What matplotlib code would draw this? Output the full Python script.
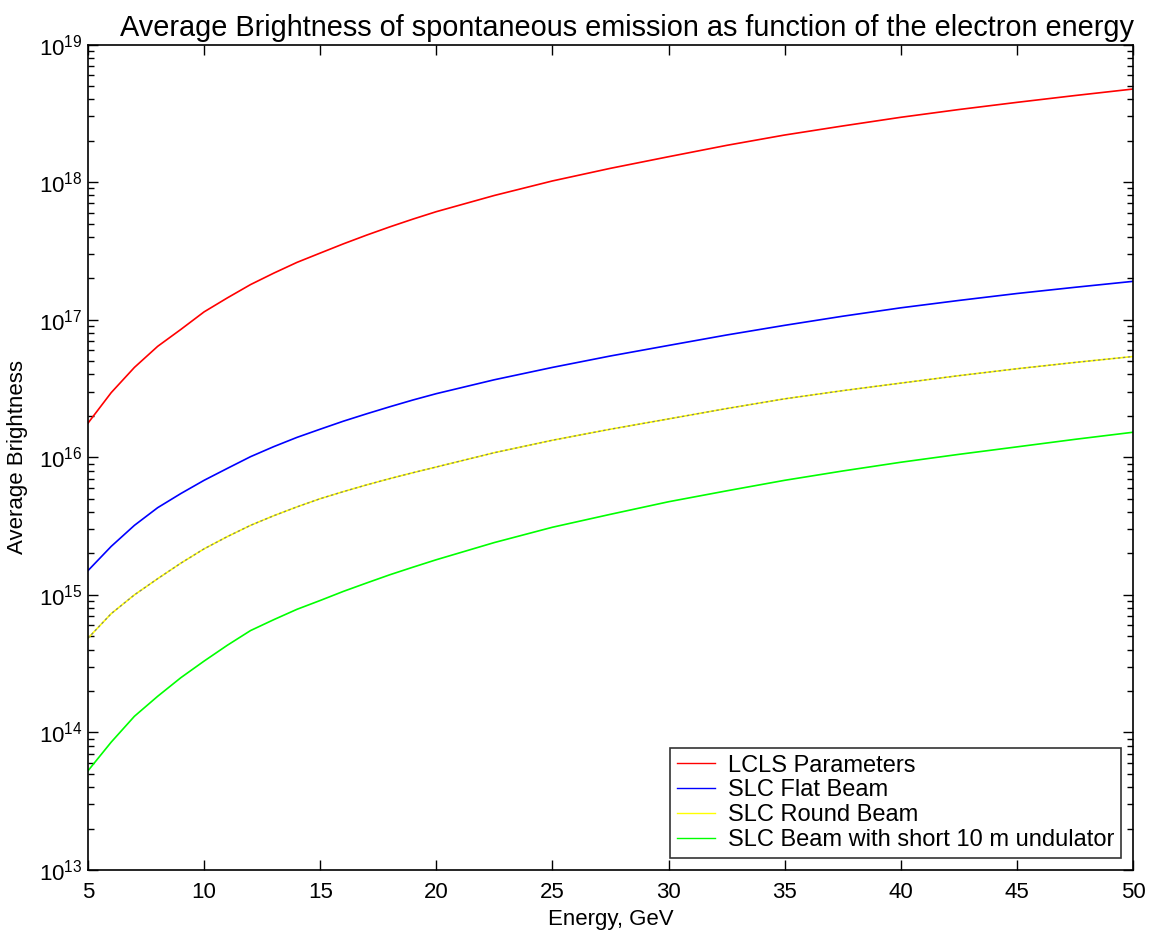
import numpy as np
import matplotlib
matplotlib.use('Agg')
import matplotlib.pyplot as plt

plt.rcParams['font.family'] = ['Liberation Sans', 'DejaVu Sans']
plt.rcParams['mathtext.fontset'] = 'custom'
plt.rcParams['mathtext.rm'] = 'Liberation Sans'

# energy points (GeV)
energy = [5, 6, 7, 8, 9, 10, 11, 12, 13, 14, 15, 16, 17, 18, 19, 20,
          22.5, 25, 27.5, 30, 32.5, 35, 37.5, 40, 42.5, 45, 47.5, 50]

# average brightness
lcls = [1.77e16, 2.95e16, 4.5e16, 6.4e16, 8.5e16, 1.14e17, 1.44e17, 1.80e17,
        2.18e17, 2.61e17, 3.05e17, 3.56e17, 4.12e17, 4.73e17, 5.39e17, 6.1e17,
        8.0e17, 1.02e18, 1.26e18, 1.53e18, 1.85e18, 2.2e18, 2.56e18, 2.96e18,
        3.37e18, 3.8e18, 4.26e18, 4.75e18]
slc_flat = [1.5e15, 2.25e15, 3.2e15, 4.3e15, 5.45e15, 6.8e15, 8.3e15, 1.01e16,
            1.195e16, 1.395e16, 1.6e16, 1.83e16, 2.07e16, 2.33e16, 2.61e16, 2.9e16,
            3.66e16, 4.5e16, 5.45e16, 6.5e16, 7.74e16, 9.1e16, 1.06e17, 1.22e17,
            1.38e17, 1.55e17, 1.72e17, 1.9e17]
slc_round = [4.84e14, 7.3e14, 1.0e15, 1.31e15, 1.7e15, 2.16e15, 2.65e15, 3.2e15,
             3.76e15, 4.36e15, 5.0e15, 5.63e15, 6.3e15, 7.0e15, 7.73e15, 8.5e15,
             1.08e16, 1.33e16, 1.6e16, 1.9e16, 2.26e16, 2.66e16, 3.05e16, 3.46e16,
             3.92e16, 4.4e16, 4.89e16, 5.4e16]
slc_short = [5.26e13, 8.5e13, 1.31e14, 1.83e14, 2.5e14, 3.3e14, 4.3e14, 5.5e14,
             6.6e14, 7.85e14, 9.1e14, 1.06e15, 1.22e15, 1.4e15, 1.59e15, 1.8e15,
             2.4e15, 3.1e15, 3.85e15, 4.75e15, 5.7e15, 6.8e15, 7.95e15, 9.2e15,
             1.05e16, 1.19e16, 1.35e16, 1.52e16]

labels = ['LCLS Parameters', 'SLC Flat Beam', 'SLC Round Beam',
          'SLC Beam with short 10 m undulator']

fig = plt.figure(figsize=(11.56, 9.38), dpi=100)
ax = fig.add_axes([0.0761, 0.0725, 0.904, 0.880])

ax.semilogy(energy, lcls, color='#ff0000', lw=1.2, label=labels[0])
ax.semilogy(energy, slc_flat, color='#0000ff', lw=1.2, label=labels[1])
ax.semilogy(energy, slc_round, color='#ffff00', lw=1.2, label=labels[2])
# dashed overlay sitting on top of the yellow curve
ax.semilogy(energy, slc_round, color='#808080', lw=0.9, dashes=(2, 2))
ax.semilogy(energy, slc_short, color='#00ff00', lw=1.2, label=labels[3])

ax.set_xlim(5, 50)
ax.set_ylim(1e13, 1e19)
ax.set_xticks(np.arange(5, 51, 5))

ax.tick_params(which='both', direction='in', top=True, right=True,
               labelsize=16)
ax.tick_params(axis='x', pad=9)
ax.tick_params(axis='y', pad=4)
ax.tick_params(which='major', length=7, width=1)
ax.tick_params(which='minor', length=4, width=1)
ax.tick_params(axis='x', which='minor', bottom=False, top=False)
for s in ax.spines.values():
    s.set_linewidth(1.2)

ax.set_title('Average Brightness of spontaneous emission as function of the electron energy',
             fontsize=20.8, pad=6, x=0.516)
ax.set_xlabel('Energy, GeV', fontsize=16, labelpad=4)
ax.set_ylabel('Average Brightness', fontsize=16, labelpad=8)

leg = ax.legend(loc='lower right', fontsize=17, frameon=True, fancybox=False,
                edgecolor='black', borderaxespad=0.5, handlelength=1.6,
                handletextpad=0.55, labelspacing=0.12, borderpad=0.3)
leg.get_frame().set_linewidth(1.2)
for h in leg.get_lines():
    h.set_linewidth(1.0)

fig.savefig('out.png', dpi=100)
